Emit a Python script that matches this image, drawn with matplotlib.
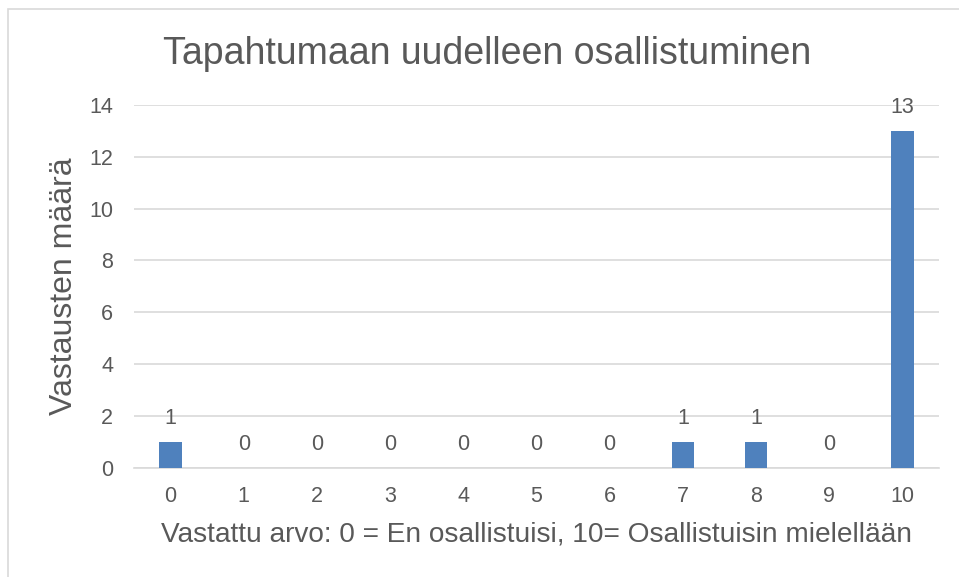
import numpy as np
import matplotlib
matplotlib.use('Agg')
import matplotlib.pyplot as plt
from matplotlib.patches import Rectangle

# data
categories = ['0', '1', '2', '3', '4', '5', '6', '7', '8', '9', '10']
counts = [1, 0, 0, 0, 0, 0, 0, 1, 1, 0, 13]
y_ticks = [0, 2, 4, 6, 8, 10, 12, 14]

title = 'Tapahtumaan uudelleen osallistuminen'
x_label = 'Vastattu arvo: 0 = En osallistuisi, 10= Osallistuisin mielellään'
y_label = 'Vastausten määrä'

TXT = '#595959'
GRID = '#d9d9d9'
BAR = '#4f81bd'

plt.rcParams['font.family'] = ['Liberation Sans', 'DejaVu Sans']

fig = plt.figure(figsize=(9.59, 5.77), dpi=100, facecolor='white')
# outer chart border (cropped on right / bottom)
fig.patches.append(Rectangle((8/959, -0.1), 1.2, (577-9)/577 + 0.1, transform=fig.transFigure,
                             fill=False, edgecolor=GRID, linewidth=1.2))

ax = fig.add_axes([134/959, 1-467.5/577, (939-134)/959, (467.5-105)/577])
x = np.arange(len(categories))
ax.bar(x, counts, width=0.31, color=BAR, zorder=3)
for xi, v in zip(x, counts):
    ax.annotate(str(v), (xi, v), xytext=(0, 9), textcoords='offset points',
                ha='center', va='bottom', fontsize=15.5, color=TXT)

ax.set_xlim(-0.5, len(categories)-0.5)
ax.set_ylim(0, 14)
ax.set_yticks(y_ticks)
ax.set_xticks(x)
ax.set_xticklabels(categories)
ax.tick_params(axis='both', length=0, labelsize=15.5, labelcolor=TXT)
ax.tick_params(axis='x', pad=13)
ax.tick_params(axis='y', pad=15)
ax.grid(axis='y', color=GRID, linewidth=1.2, zorder=0)
for s in ['top', 'right', 'left']:
    ax.spines[s].set_visible(False)
ax.spines['bottom'].set_color(GRID)
ax.spines['bottom'].set_linewidth(1.2)

ax.set_xlabel(x_label, fontsize=20.2, color=TXT, labelpad=11)
ax.set_ylabel(y_label, fontsize=23, color=TXT, labelpad=7)
fig.text(487/959, 1-54/577, title, ha='center', va='center', fontsize=27, color=TXT)

plt.savefig('out.png', dpi=100, facecolor='white')
